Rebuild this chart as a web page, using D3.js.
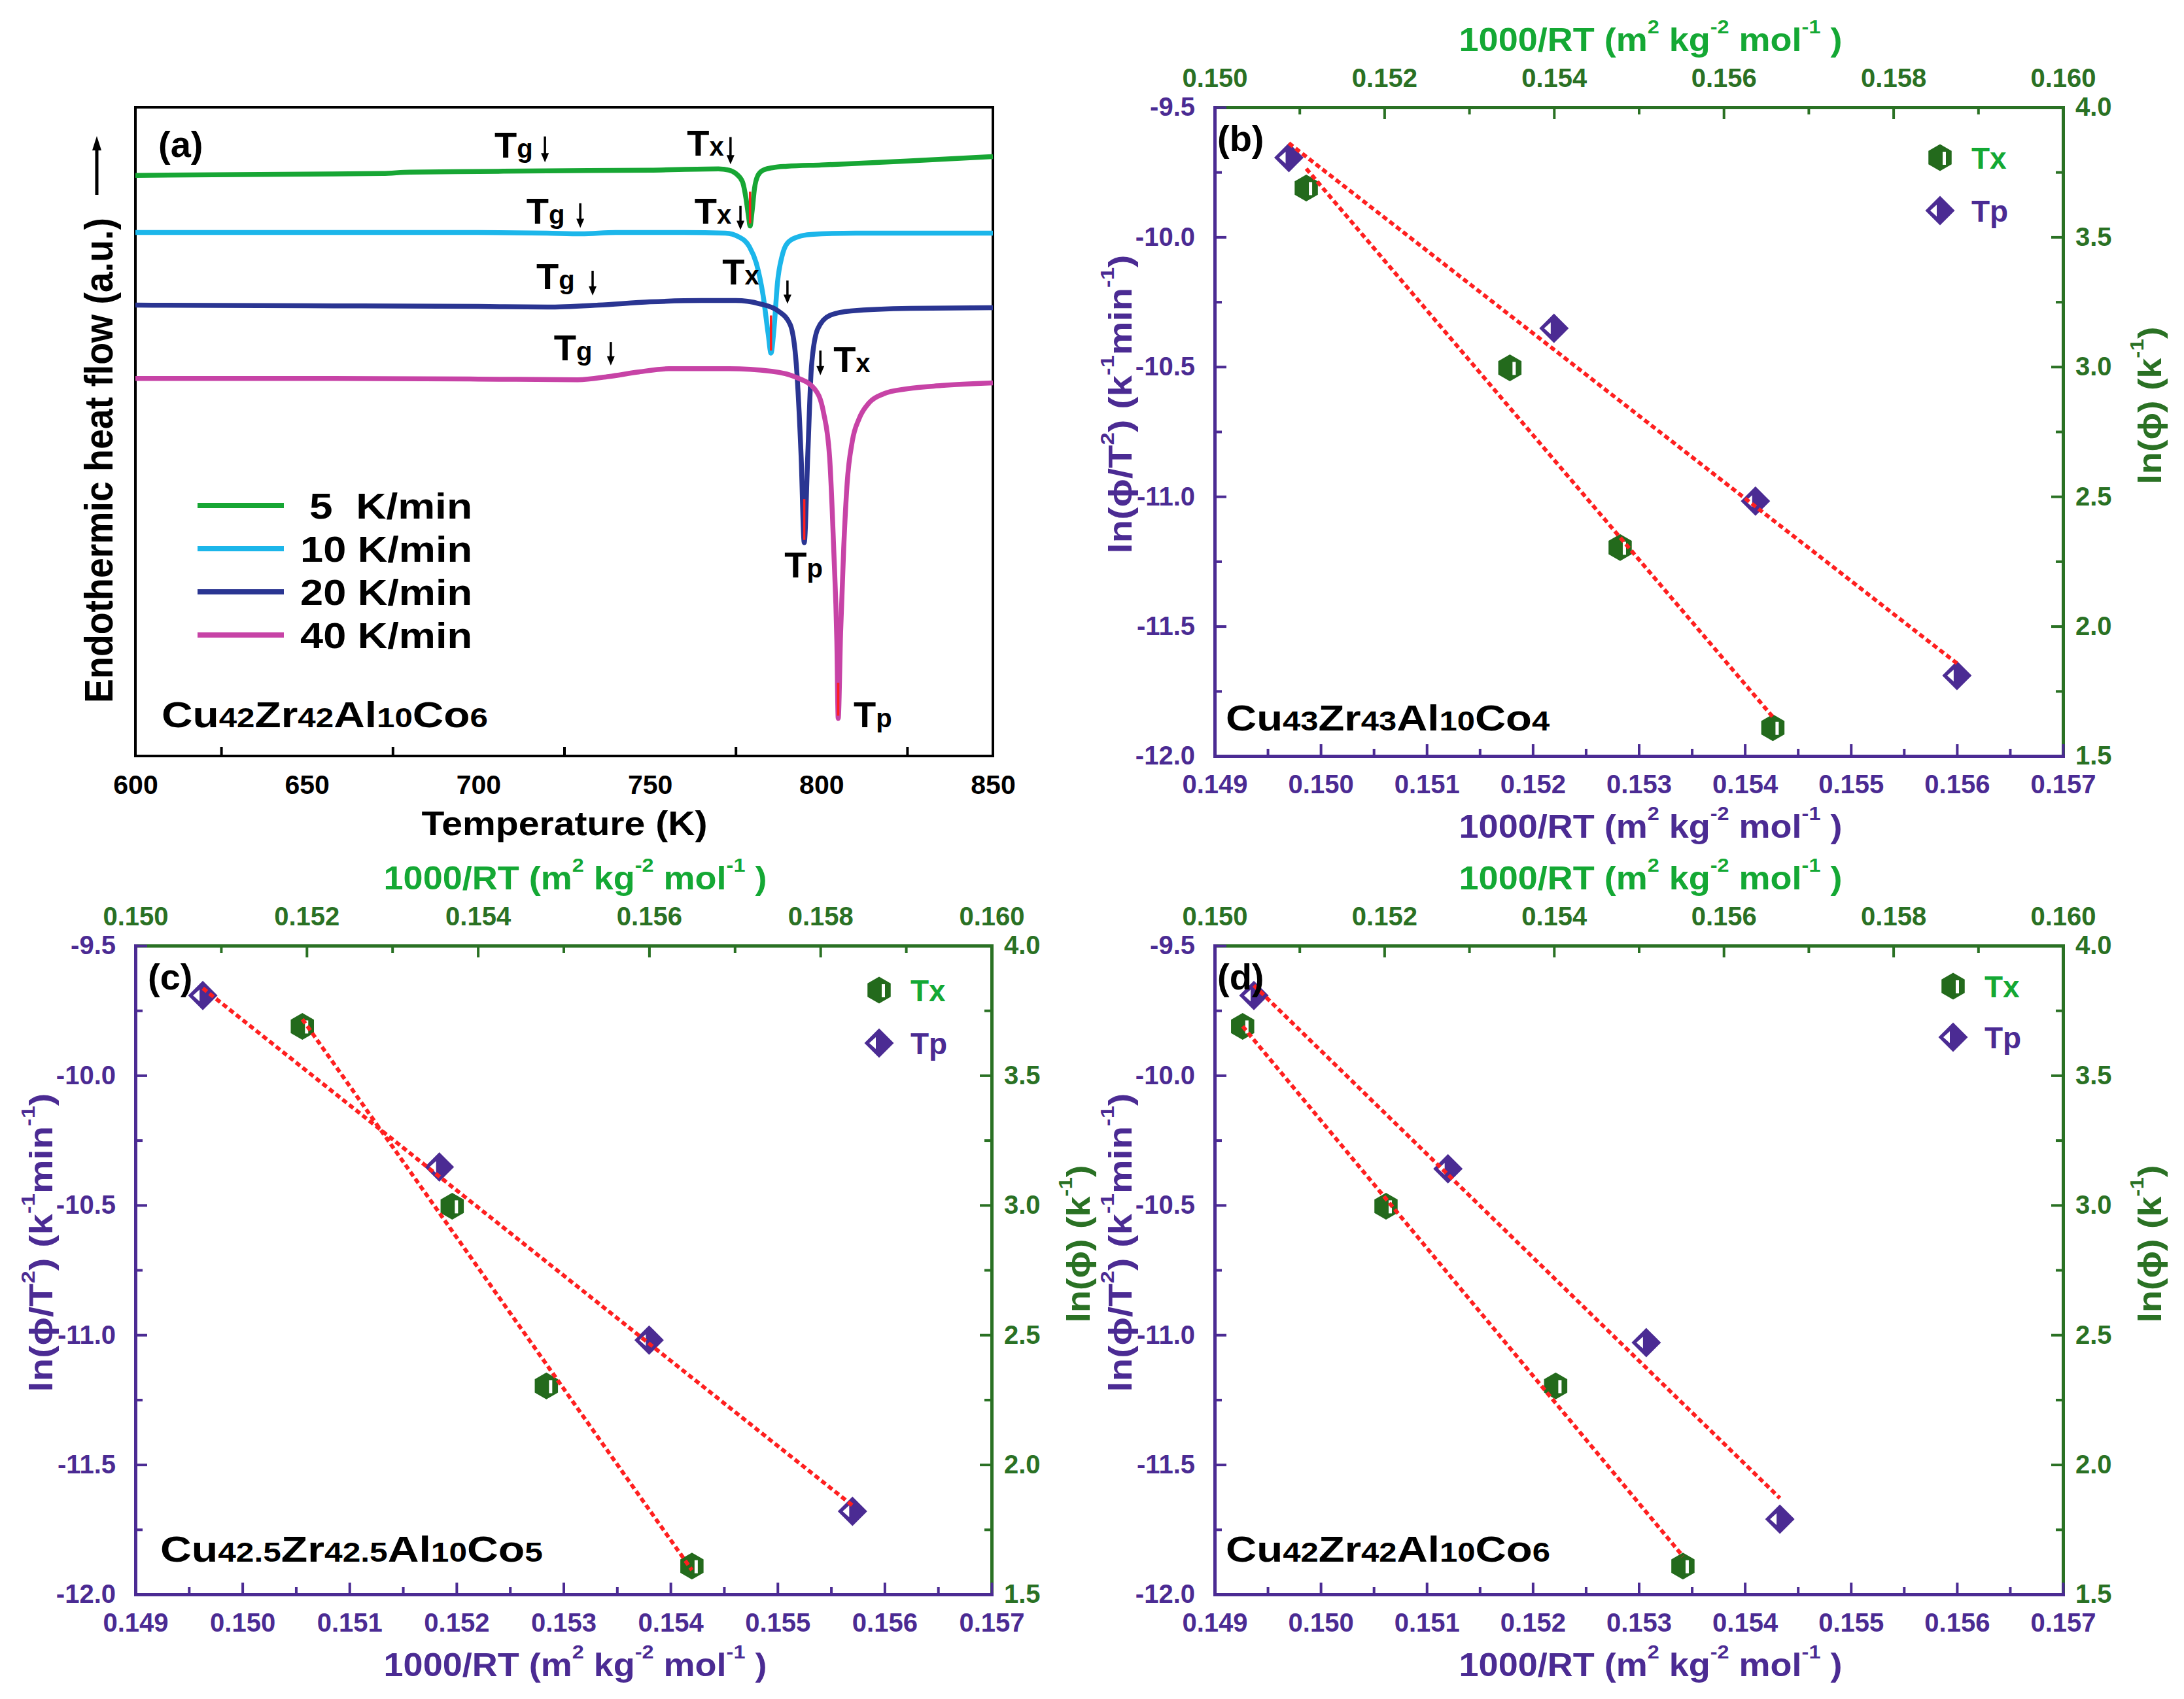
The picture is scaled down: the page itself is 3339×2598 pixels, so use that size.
<!DOCTYPE html>
<html><head><meta charset="utf-8">
<script src="https://cdn.jsdelivr.net/npm/d3@7"></script>
<style>
body{margin:0;background:#fff;}
svg{display:block;}
text{font-family:"Liberation Sans",Arial,sans-serif;font-weight:bold;}
</style></head><body>
<svg id="fig" width="3339" height="2598"></svg>
<script>
// ================= DATA =================
// Panel (a): DSC traces, [Temperature (K), heat flow (a.u.)]
const tempTicks = [600, 650, 700, 750, 800, 850];
const tempMinorTicks = [625, 675, 725, 775, 825];
const rateLabels = ["5  K/min", "10 K/min", "20 K/min", "40 K/min"];
const dsc5 = [[600,8.95],[650,8.97],[672,8.98],[680,9.0],[700,9.01],[720,9.02],[750,9.03],[770,9.05],[773,9.03],[775,8.98],[777,8.85],[778,8.6],[778.8,8.3],[779.2,8.17],[779.8,8.4],[780.5,8.75],[781.5,8.95],[783,9.03],[786,9.07],[790,9.09],[800,9.11],[825,9.17],[850,9.24]];
const dsc10 = [[600,8.07],[650,8.07],[700,8.07],[720,8.06],[730,8.05],[740,8.07],[760,8.07],[772,8.06],[776,8.0],[779,7.85],[781,7.6],[783,7.1],[784.5,6.5],[785.3,6.21],[786.2,6.6],[787.2,7.3],[788.5,7.7],[790,7.9],[793,8.0],[797,8.04],[810,8.06],[850,8.06]];
const dsc20 = [[600,6.95],[650,6.94],[700,6.93],[720,6.92],[735,6.95],[750,7.0],[765,7.02],[775,7.02],[782,6.97],[787.4,6.86],[790.9,6.65],[792.7,6.02],[794.1,4.6],[795,3.29],[796,4.6],[797.1,6.0],[798.9,6.58],[802.4,6.79],[808.6,6.86],[826,6.9],[850,6.91]];
const dsc40 = [[600,5.82],[650,5.82],[700,5.81],[729,5.80],[738,5.85],[746.8,5.92],[755.6,5.97],[773,5.97],[785.5,5.93],[792.5,5.84],[798,5.66],[800.6,5.3],[802.4,4.6],[803.6,3.18],[804.5,1.77],[804.9,0.58],[805.6,1.9],[806.5,3.2],[807.5,4.2],[809,4.85],[811,5.2],[814,5.45],[818,5.58],[825,5.66],[835,5.71],[850,5.75]];
// Tp tip highlights: [T, bottom, top]
const tpTips = [[779.2,8.17,8.7],[785.3,6.21,6.79],[795.0,3.29,3.96],[804.9,0.58,1.13]];
// annotations in data units: [text main, sub, T, baseline]
const tgLabels = [["T","g",704.7,9.22],["T","g",714.0,8.21],["T","g",716.9,7.20],["T","g",722.0,6.10]];
const txLabels = [["T","x",760.8,9.25],["T","x",763.0,8.21],["T","x",771.1,7.27],["T","x",803.5,5.92]];
const tpLabels = [["T","p",789.2,2.75],["T","p",809.4,0.44]];
// arrows: [T, top, bottom]
const arrowsA = [[719.4,9.55,9.15],[773.5,9.54,9.12],[729.7,8.52,8.14],[776.4,8.48,8.11],[733.3,7.48,7.10],[790.1,7.33,6.97],[738.6,6.38,6.02],[799.7,6.25,5.87]];

// Kissinger panels: Tp -> bottom/left axes, Tx -> top/right axes
const bottomTicks = [0.149,0.150,0.151,0.152,0.153,0.154,0.155,0.156,0.157];
const bottomMinor = [0.1495,0.1505,0.1515,0.1525,0.1535,0.1545,0.1555,0.1565];
const topTicks = [0.150,0.152,0.154,0.156,0.158,0.160];
const topMinor = [0.151,0.153,0.155,0.157,0.159];
const leftTicks = [-9.5,-10.0,-10.5,-11.0,-11.5,-12.0];
const leftMinor = [-9.75,-10.25,-10.75,-11.25,-11.75];
const rightTicks = [4.0,3.5,3.0,2.5,2.0,1.5];
const rightMinor = [3.75,3.25,2.75,2.25,1.75];

const tpX_b = [0.14970,0.15220,0.15410,0.15600], tpY_b = [-9.694,-10.352,-11.018,-11.690];
const txX_b = [0.15108,0.15348,0.15478,0.15658], txY_b = [3.689,2.996,2.303,1.609];
const tpX_c = [0.14963,0.15184,0.15380,0.15570], tpY_c = [-9.692,-10.353,-11.020,-11.680];
const txX_c = [0.15195,0.15370,0.15480,0.15650], txY_c = [3.689,2.996,2.303,1.609];
const tpX_d = [0.14937,0.15120,0.15307,0.15433], tpY_d = [-9.692,-10.360,-11.030,-11.710];
const txX_d = [0.15033,0.15202,0.15402,0.15552], txY_d = [3.689,2.996,2.303,1.609];

// ================= STYLE / LAYOUT =================
const C = {purple:"#4b2b93", gDark:"#2a7124", gBright:"#14a834", gMark:"#236a1c", red:"#ff1f1f",
  c5:"#17a634", c10:"#1cb6ea", c20:"#2a3592", c40:"#c743a6"};
const svg = d3.select("#fig");

function label(parent, x, y, parts, o = {}) {
  const g = parent.append("g").attr("transform", `translate(${x},${y})` + (o.rotate ? ` rotate(${o.rotate})` : ""));
  const t = g.append("text").attr("text-anchor", o.anchor || "start").attr("fill", o.color || "#000")
    .style("font-size", (o.size || 50) + "px").style("white-space", "pre");
  let cur = 0;
  parts.forEach(p => {
    if (typeof p === "string") p = {t: p};
    const rise = p.rise || 0;
    const ts = t.append("tspan").text(p.t);
    if (rise !== cur) ts.attr("dy", -(rise - cur));
    cur = rise;
    if (p.s) ts.style("font-size", p.s + "px");
  });
  if (o.width) {
    const w = t.node().getBBox().width;
    t.attr("transform", `scale(${o.width / w},1)`);
  }
  return g;
}

function axis(g, orient, scale, major, minor, fmt, color, pad, tx, ty) {
  const mk = {bottom: d3.axisBottom, top: d3.axisTop, left: d3.axisLeft, right: d3.axisRight}[orient];
  const wrap = g.append("g").attr("transform", `translate(${tx},${ty})`);
  if (minor) {
    const gm = wrap.append("g").call(mk(scale).tickValues(minor).tickSize(-11).tickSizeOuter(0).tickFormat(""));
    gm.select(".domain").remove();
    gm.selectAll("line").attr("stroke", color).attr("stroke-width", 4);
  }
  const a = wrap.append("g").call(mk(scale).tickValues(major).tickSize(-18).tickSizeOuter(0).tickPadding(pad).tickFormat(fmt));
  a.attr("font-size", null).attr("font-family", null);
  a.select(".domain").attr("stroke", color).attr("stroke-width", 5).attr("stroke-linecap", "square");
  a.selectAll("line").attr("stroke", color).attr("stroke-width", 4);
  a.selectAll("text").attr("fill", color).style("font-size", "40px");
  return a;
}

// ================= PANEL (a) =================
(function() {
  const F = {x0: 207, x1: 1518, y0: 164, y1: 1156};
  const x = d3.scaleLinear([600, 850], [F.x0, F.x1]);
  const y = d3.scaleLinear([0, 10], [F.y1, F.y0]);
  const g = svg.append("g");
  const ax = g.append("g").attr("transform", `translate(0,${F.y1})`)
    .call(d3.axisBottom(x).tickValues(tempTicks).tickSize(0).tickPadding(29).tickFormat(d3.format("d")));
  ax.attr("font-size", null).attr("font-family", null);
  ax.select(".domain").remove();
  ax.selectAll("text").attr("fill", "#000").style("font-size", "41px");
  const axm = g.append("g").attr("transform", `translate(0,${F.y1})`)
    .call(d3.axisBottom(x).tickValues(tempMinorTicks).tickSize(-14).tickFormat(""));
  axm.select(".domain").remove();
  axm.selectAll("line").attr("stroke", "#000").attr("stroke-width", 4);
  g.append("rect").attr("x", F.x0).attr("y", F.y0).attr("width", F.x1 - F.x0).attr("height", F.y1 - F.y0)
    .attr("fill", "none").attr("stroke", "#000").attr("stroke-width", 4);

  const line = d3.line().x(d => x(d[0])).y(d => y(d[1])).curve(d3.curveMonotoneX);
  const series = [dsc5, dsc10, dsc20, dsc40];
  const cols = [C.c5, C.c10, C.c20, C.c40];
  series.forEach((s, i) => g.append("path").datum(s).attr("d", line).attr("fill", "none")
    .attr("stroke", cols[i]).attr("stroke-width", 7.5).attr("stroke-linejoin", "round"));
  tpTips.forEach(d => g.append("line").attr("x1", x(d[0])).attr("x2", x(d[0])).attr("y1", y(d[1]) - 4).attr("y2", y(d[2]))
    .attr("stroke", C.red).attr("stroke-width", 3.5));

  const ann = (arr) => arr.forEach(d => label(g, x(d[2]), y(d[3]), [{t: d[0]}, {t: d[1], s: 40}], {size: 56}));
  ann(tgLabels); ann(txLabels); ann(tpLabels);
  arrowsA.forEach(d => {
    const xx = x(d[0]), ya = y(d[1]), yb = y(d[2]);
    g.append("line").attr("x1", xx).attr("x2", xx).attr("y1", ya).attr("y2", yb - 10).attr("stroke", "#000").attr("stroke-width", 3.5);
    g.append("path").attr("d", `M${xx - 6},${yb - 14}L${xx + 6},${yb - 14}L${xx},${yb}Z`).attr("fill", "#000");
  });

  label(g, 242, 240, ["(a)"], {size: 56});
  rateLabels.forEach((r, i) => {
    const ly = 773 + i * 66;
    g.append("line").attr("x1", 302).attr("x2", 434).attr("y1", ly).attr("y2", ly).attr("stroke", cols[i]).attr("stroke-width", 8);
    label(g, 722, ly + 20, [r], {size: 56, anchor: "end", width: i === 0 ? 249 : 263});
  });
  label(g, 247, 1112, [{t: "Cu"}, {t: "42", s: 42}, {t: "Zr"}, {t: "42", s: 42}, {t: "Al"}, {t: "10", s: 42}, {t: "Co"}, {t: "6", s: 42}], {size: 56, width: 499});
  label(g, 863, 1277, ["Temperature (K)"], {size: 52, anchor: "middle", width: 437});
  label(g, 172, 704, ["Endothermic heat flow (a.u.)"], {size: 62, anchor: "middle", rotate: -90, width: 742});
  g.append("line").attr("x1", 148).attr("x2", 148).attr("y1", 298).attr("y2", 226).attr("stroke", "#000").attr("stroke-width", 5);
  g.append("path").attr("d", "M141,230L155,230L148,208Z").attr("fill", "#000");
})();

// ================= KISSINGER PANELS =================
function fit(xs, ys) {
  const mx = d3.mean(xs), my = d3.mean(ys);
  let sxy = 0, sxx = 0;
  xs.forEach((v, i) => { sxy += (v - mx) * (ys[i] - my); sxx += (v - mx) * (v - mx); });
  const b = sxy / sxx; return [b, my - b * mx];
}
function hexagon(g, cx, cy) {
  const r = 20.5;
  const pts = d3.range(6).map(k => { const a = (-90 + 60 * k) * Math.PI / 180; return [cx + r * Math.cos(a), cy + r * Math.sin(a)]; });
  g.append("path").attr("d", "M" + pts.join("L") + "Z").attr("fill", C.gMark);
  g.append("rect").attr("x", cx + 4).attr("y", cy - 9).attr("width", 5).attr("height", 20).attr("fill", "#fff");
}
function diamond(g, cx, cy) {
  const r = 22.5;
  g.append("path").attr("d", `M${cx - r},${cy}L${cx},${cy - r}L${cx + r},${cy}L${cx},${cy + r}Z`).attr("fill", C.purple);
  g.append("path").attr("d", `M${cx - 15},${cy}L${cx - 5},${cy - 9}L${cx - 5},${cy + 9}Z`).attr("fill", "#fff");
}
const sup = (t) => ({t: t, s: 30, rise: 27});
const titleParts = ["1000/RT (m", sup("2"), " kg", sup("-2"), " mol", sup("-1"), " )"];
const leftParts = ["ln(ϕ/T", sup("2"), ") (k", sup("-1"), "min", sup("-1"), ")"];
const rightParts = ["ln(ϕ) (k", sup("-1"), ")"];

function kissinger(F, tpX, tpY, txX, txY, L) {
  const g = svg.append("g");
  const xb = d3.scaleLinear([0.149, 0.157], [F.x0, F.x1]);
  const xt = d3.scaleLinear([0.150, 0.160], [F.x0, F.x1]);
  const yl = d3.scaleLinear([-12, -9.5], [F.y1, F.y0]);
  const yr = d3.scaleLinear([1.5, 4.0], [F.y1, F.y0]);
  axis(g, "top", xt, topTicks, topMinor, d => d.toFixed(3), C.gDark, 31, 0, F.y0);
  axis(g, "right", yr, rightTicks, rightMinor, d => d.toFixed(1), C.gDark, 19, F.x1, 0);
  axis(g, "bottom", xb, bottomTicks, bottomMinor, d => d.toFixed(3), C.purple, 29, 0, F.y1);
  axis(g, "left", yl, leftTicks, leftMinor, d => d.toFixed(1), C.purple, 30, F.x0, 0);

  tpX.forEach((v, i) => diamond(g, xb(v), yl(tpY[i])));
  txX.forEach((v, i) => hexagon(g, xt(v), yr(txY[i])));
  const [b1, a1] = fit(tpX, tpY), [b2, a2] = fit(txX, txY);
  const x1s = d3.extent(tpX), x2s = d3.extent(txX);
  g.append("line").attr("x1", xb(x1s[0])).attr("y1", yl(a1 + b1 * x1s[0])).attr("x2", xb(x1s[1])).attr("y2", yl(a1 + b1 * x1s[1]))
    .attr("stroke", C.red).attr("stroke-width", 6).attr("stroke-dasharray", "8,5");
  g.append("line").attr("x1", xt(x2s[0])).attr("y1", yr(a2 + b2 * x2s[0])).attr("x2", xt(x2s[1])).attr("y2", yr(a2 + b2 * x2s[1]))
    .attr("stroke", C.red).attr("stroke-width", 6).attr("stroke-dasharray", "8,5");

  hexagon(g, L.lx, L.ly1); diamond(g, L.lx, L.ly2);
  label(g, L.lx + 48, L.ly1 + 17, ["Tx"], {size: 46, color: C.gBright});
  label(g, L.lx + 48, L.ly2 + 17, ["Tp"], {size: 46, color: C.purple});
  label(g, L.tagX, L.tagY, [L.tag], {size: 56});
  label(g, L.nameX, L.nameY, L.name, {size: 56, width: L.nameW});
  const cx = (F.x0 + F.x1) / 2 + 18, cy = (F.y0 + F.y1) / 2;
  label(g, cx, F.y0 - 86, titleParts, {size: 50, anchor: "middle", color: C.gBright, width: 586});
  label(g, cx, F.y1 + 125, titleParts, {size: 50, anchor: "middle", color: C.purple, width: 586});
  label(g, F.x0 - 127, cy - 42, leftParts, {size: 50, anchor: "middle", rotate: -90, color: C.purple, width: 457});
  label(g, F.x1 + 150, cy - 40, rightParts, {size: 50, anchor: "middle", rotate: -90, color: C.gDark, width: 241});
}
const big = (t) => ({t: t}), small = (t) => ({t: t, s: 42});
kissinger({x0: 1857, x1: 3154, y0: 164, y1: 1156}, tpX_b, tpY_b, txX_b, txY_b,
  {lx: 2966, ly1: 241, ly2: 322, tag: "(b)", tagX: 1861, tagY: 231, nameX: 1874, nameY: 1117, nameW: 496,
   name: [big("Cu"), small("43"), big("Zr"), small("43"), big("Al"), small("10"), big("Co"), small("4")]});
kissinger({x0: 207, x1: 1516, y0: 1446, y1: 2438}, tpX_c, tpY_c, txX_c, txY_c,
  {lx: 1344, ly1: 1514, ly2: 1595, tag: "(c)", tagX: 226, tagY: 1513, nameX: 245, nameY: 2388, nameW: 585,
   name: [big("Cu"), small("42.5"), big("Zr"), small("42.5"), big("Al"), small("10"), big("Co"), small("5")]});
kissinger({x0: 1857, x1: 3154, y0: 1446, y1: 2438}, tpX_d, tpY_d, txX_d, txY_d,
  {lx: 2986, ly1: 1508, ly2: 1586, tag: "(d)", tagX: 1861, tagY: 1513, nameX: 1874, nameY: 2388, nameW: 496,
   name: [big("Cu"), small("42"), big("Zr"), small("42"), big("Al"), small("10"), big("Co"), small("6")]});
</script>
</body></html>
